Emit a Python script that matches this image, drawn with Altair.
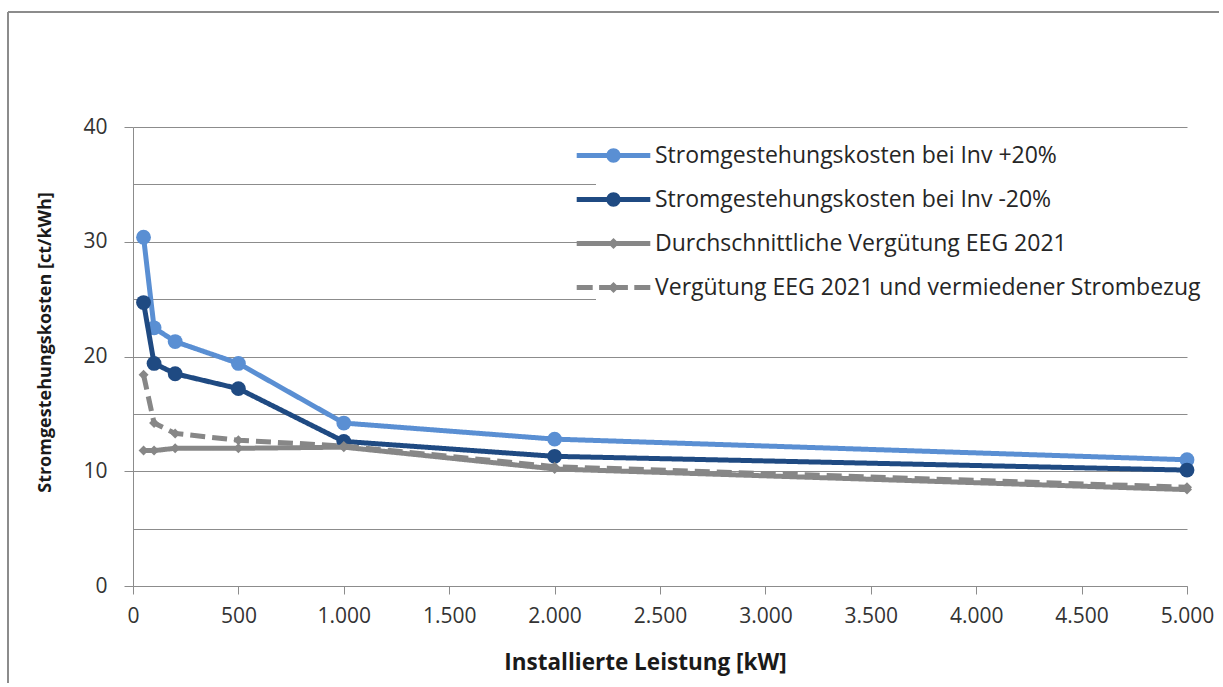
import altair as alt
import pandas as pd

# Installed capacity (kW) at which each series was evaluated
leistung = [50, 100, 200, 500, 1000, 2000, 5000]

series_names = [
    "Stromgestehungskosten bei Inv +20%",
    "Stromgestehungskosten bei Inv -20%",
    "Durchschnittliche Vergütung EEG 2021",
    "Vergütung EEG 2021 und vermiedener Strombezug",
]

# ct/kWh
kosten_inv_plus = [30.4, 22.5, 21.3, 19.4, 14.2, 12.8, 11.0]
kosten_inv_minus = [24.7, 19.4, 18.5, 17.2, 12.6, 11.3, 10.1]
verguetung_eeg = [11.8, 11.8, 12.0, 12.0, 12.1, 10.2, 8.4]
verguetung_bezug = [18.4, 14.2, 13.3, 12.7, 12.2, 10.4, 8.6]

series_colors = ["#5a8fd3", "#1f4a82", "#878787", "#878787"]
series_dash = [[1, 0], [1, 0], [1, 0], [15, 7]]
series_marker = ["circle", "circle", "diamond", "diamond"]
series_marker_size = [220, 220, 100, 100]

# Legend glyphs: line with marker, in symbol unit coordinates
legend_glyphs = [
    "M-4.6,-0.31H-0.6V0.31H-4.6Z M0.6,-0.31H4.6V0.31H0.6Z "
    "M0.9,0A0.9,0.9 0 1,1 -0.9,0A0.9,0.9 0 1,1 0.9,0Z",
    "M-4.6,-0.31H-0.6V0.31H-4.6Z M0.6,-0.31H4.6V0.31H0.6Z "
    "M0.9,0A0.9,0.9 0 1,1 -0.9,0A0.9,0.9 0 1,1 0.9,0Z",
    "M-4.6,-0.31H4.6V0.31H-4.6Z M0,-0.7L0.7,0L0,0.7L-0.7,0Z",
    "M-4.6,-0.31H-2.6V0.31H-4.6Z M-1.8,-0.31H1.8V0.31H-1.8Z "
    "M0,-0.7L0.7,0L0,0.7L-0.7,0Z M2.6,-0.31H4.6V0.31H2.6Z",
]

rows = []
for name, values in zip(
    series_names, [kosten_inv_plus, kosten_inv_minus, verguetung_eeg, verguetung_bezug]
):
    for kw, v in zip(leistung, values):
        rows.append({"series": name, "leistung": kw, "kosten": v})
df = pd.DataFrame(rows)

FONT = "Open Sans"
GRID = "#8c8c8c"

x_enc = alt.X(
    "leistung:Q",
    scale=alt.Scale(domain=[0, 5000], nice=False),
    axis=alt.Axis(
        values=list(range(0, 5001, 500)),
        labelExpr="replace(format(datum.value, ','), ',', '.')",
        title="Installierte Leistung [kW]",
        grid=False,
        tickSize=8,
        tickColor=GRID,
        domainColor=GRID,
        labelFont=FONT,
        labelFontSize=21,
        labelColor="#333333",
        labelPadding=11,
        labelFlush=False,
        titleFont=FONT,
        titleFontSize=22.5,
        titleFontWeight="bold",
        titleColor="#1a1a1a",
        titleX=512,
        titleY=76,
        titleBaseline="middle",
    ),
)
y_enc = alt.Y(
    "kosten:Q",
    scale=alt.Scale(domain=[0, 40], nice=False),
    axis=alt.Axis(
        values=list(range(0, 41, 5)),
        labelExpr="datum.value % 10 === 0 ? datum.label : ''",
        title="Stromgestehungskosten  [ct/kWh]",
        grid=True,
        gridColor=GRID,
        gridWidth=1,
        tickSize=9,
        tickColor=GRID,
        tickOpacity={"condition": {"test": "datum.value % 10 === 0", "value": 1}, "value": 0},
        domainColor=GRID,
        labelFont=FONT,
        labelFontSize=21,
        labelColor="#333333",
        labelPadding=17,
        titleFont=FONT,
        titleFontSize=18,
        titleFontWeight="bold",
        titleColor="#1a1a1a",
        titleX=-88,
        titleY=215,
        titleBaseline="middle",
    ),
)

base = alt.Chart(df)

# One line layer and one marker layer per series, drawn in series order
series_layers = []
for i, name in enumerate(series_names):
    sel = base.transform_filter(alt.datum.series == name)
    series_layers.append(
        sel.mark_line(
            color=series_colors[i], strokeWidth=5, strokeDash=series_dash[i]
        ).encode(x=x_enc, y=y_enc)
    )
    series_layers.append(
        sel.mark_point(
            shape=series_marker[i],
            filled=True,
            size=series_marker_size[i],
            color=series_colors[i],
            opacity=1,
            strokeWidth=0,
        ).encode(x=x_enc, y=y_enc)
    )

legend_def = dict(
    title=None,
    orient="none",
    legendX=463,
    legendY=11,
    fillColor="white",
    padding=6,
    labelFont=FONT,
    labelFontSize=23,
    labelColor="#262626",
    labelLimit=800,
    labelOffset=30,
    rowPadding=20,
    symbolSize=256,
    symbolStrokeWidth=0,
    symbolOpacity=1,
)

# Legend-only layer: no rows are drawn, the scales carry the entries
legend_layer = base.transform_filter("false").mark_point(
    filled=True, size=256, opacity=1
).encode(
    x=x_enc,
    y=y_enc,
    color=alt.Color(
        "series:N",
        scale=alt.Scale(domain=series_names, range=series_colors),
        legend=alt.Legend(**legend_def),
    ),
    shape=alt.Shape(
        "series:N",
        scale=alt.Scale(domain=series_names, range=legend_glyphs),
        legend=alt.Legend(**legend_def),
    ),
)

# Outer chart border (top and left edges)
frame_src = alt.Chart(pd.DataFrame({"k": [0]}))
frame_top = frame_src.mark_rule(color=GRID, strokeWidth=2).encode(
    x=alt.value(-125), x2=alt.value(1086), y=alt.value(-115)
)
frame_left = frame_src.mark_rule(color=GRID, strokeWidth=2).encode(
    x=alt.value(-125), y=alt.value(-115), y2=alt.value(556)
)

chart = (
    alt.layer(frame_top, frame_left, *series_layers, legend_layer)
    .properties(
        width=1054,
        height=459,
        padding={"left": 7, "top": 11, "right": 0, "bottom": 0},
        background="white",
    )
    .configure_view(stroke=None)
)

chart.save("out.html", embed_options={"renderer": "svg", "actions": False})
